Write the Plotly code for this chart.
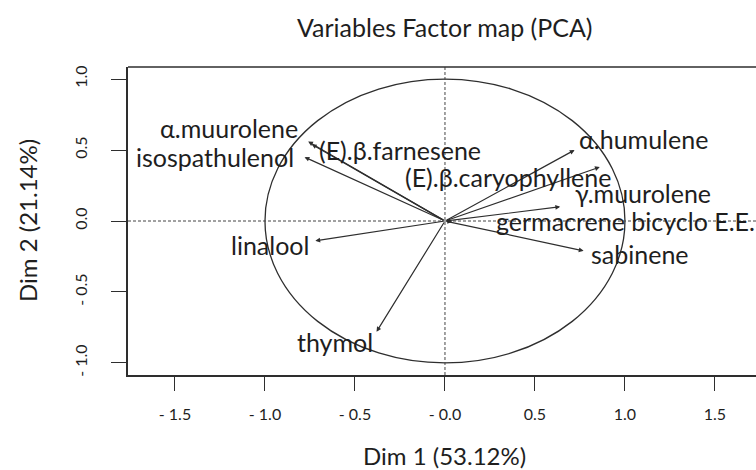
import plotly.graph_objects as go

# ---- data ----
variables = ["α.muurolene", "isospathulenol", "(E).β.farnesene", "(E).β.caryophyllene",
             "α.humulene", "γ.muurolene", "germacrene bicyclo E.E.", "sabinene",
             "linalool", "thymol"]
dim1 = [-0.76, -0.78, -0.74, 0.86, 0.72, 0.64, 0.04, 0.77, -0.72, -0.38]
dim2 = [0.56, 0.45, 0.54, 0.38, 0.50, 0.10, -0.005, -0.21, -0.14, -0.78]
x_ticks = [-1.5, -1.0, -0.5, 0.0, 0.5, 1.0, 1.5]
x_ticktext = ["- 1.5", "- 1.0", "- 0.5", "- 0.0", "0.5", "1.0", "1.5"]
y_ticks = [-1.0, -0.5, 0.0, 0.5, 1.0]
y_ticktext = ["- 1.0", "- 0.5", "0.0", "0.5", "1.0"]
title = "Variables Factor map (PCA)"
xlabel = "Dim 1 (53.12%)"
ylabel = "Dim 2 (21.14%)"

# ---- label placement (layout: anchor side + pixel offsets from arrow tip) ----
label_style = {
    "α.muurolene": ("right", -8, 14),
    "isospathulenol": ("right", -9, 0),
    "(E).β.farnesene": ("left", 5, -6),
    "(E).β.caryophyllene": ("right", 13, -10),
    "α.humulene": ("left", 2, 11),
    "γ.muurolene": ("left", 13, 14),
    "germacrene bicyclo E.E.": ("left", 42, 1),
    "sabinene": ("left", 5, -3),
    "linalool": ("right", -4, -4),
    "thymol": ("right", -2, -10),
}

FONT = "Lato, 'Open Sans', sans-serif"
INK = "#1e1e1e"
LINE = "#2e2e2e"
LABEL_SIZE = 25

fig = go.Figure()
# invisible trace to establish axes
fig.add_trace(go.Scatter(x=dim1, y=dim2, mode="markers",
                         marker=dict(size=1, opacity=0), hoverinfo="skip",
                         showlegend=False))

shapes = [
    dict(type="circle", xref="x", yref="y", x0=-1, y0=-1, x1=1, y1=1,
         line=dict(color=LINE, width=1.3)),
    dict(type="line", xref="x", yref="paper", x0=0, x1=0, y0=0, y1=1,
         line=dict(color="#444444", width=1, dash="3px,2px")),
    dict(type="line", xref="paper", yref="y", x0=0, x1=1, y0=0, y1=0,
         line=dict(color="#444444", width=1, dash="3px,2px")),
    dict(type="line", xref="paper", yref="paper", x0=0, x1=1, y0=1, y1=1,
         line=dict(color=LINE, width=1.5)),
]

annotations = []
for name, x, y in zip(variables, dim1, dim2):
    annotations.append(dict(
        x=x, y=y, ax=0, ay=0, xref="x", yref="y", axref="x", ayref="y",
        text="", showarrow=True, arrowhead=2, arrowsize=0.8, arrowwidth=1.2,
        arrowcolor=LINE, standoff=0, startstandoff=0))
for name, x, y in zip(variables, dim1, dim2):
    side, dx, dy = label_style[name]
    annotations.append(dict(
        x=x, y=y, xref="x", yref="y", text=name, showarrow=False,
        xanchor=side, yanchor="middle", xshift=dx, yshift=dy,
        font=dict(family=FONT, size=LABEL_SIZE, color=INK)))

# title and axis titles
annotations += [
    dict(text=title, x=0, xref="x", y=1, yref="paper", yshift=40,
         xanchor="center", yanchor="middle", showarrow=False,
         font=dict(family=FONT, size=25, color=INK)),
    dict(text=xlabel, x=0, xref="x", y=0, yref="paper", yshift=-80,
         xanchor="center", yanchor="middle", showarrow=False,
         font=dict(family=FONT, size=24, color=INK)),
    dict(text=ylabel, x=0, xref="paper", xshift=-101, y=0, yref="y",
         xanchor="center", yanchor="middle", textangle=-90, showarrow=False,
         font=dict(family=FONT, size=24, color=INK)),
]

fig.update_layout(
    width=756, height=470,
    margin=dict(l=128, r=0, t=67, b=95),
    paper_bgcolor="white", plot_bgcolor="white",
    shapes=shapes,
    annotations=annotations,
    showlegend=False,
    font=dict(family=FONT, color=INK),
)
fig.update_xaxes(
    range=[-1.761, 1.728], tickvals=x_ticks, ticktext=x_ticktext,
    showgrid=False, zeroline=False, showline=True, linecolor=LINE, linewidth=1.5,
    ticks="outside", ticklen=14, tickwidth=1.3, tickcolor=LINE,
    tickfont=dict(family=FONT, size=16, color=INK), ticklabelstandoff=10,
    automargin=False,
)
fig.update_yaxes(
    range=[-1.085, 1.085], tickvals=y_ticks, ticktext=y_ticktext, tickangle=-90,
    showgrid=False, zeroline=False, showline=True, linecolor=LINE, linewidth=1.5,
    ticks="outside", ticklen=15, tickwidth=1.3, tickcolor=LINE,
    tickfont=dict(family=FONT, size=16, color=INK), ticklabelstandoff=18,
    automargin=False,
)

fig.write_html("out.html", config={"displayModeBar": False},
               post_script="document.body.style.margin='0';")
